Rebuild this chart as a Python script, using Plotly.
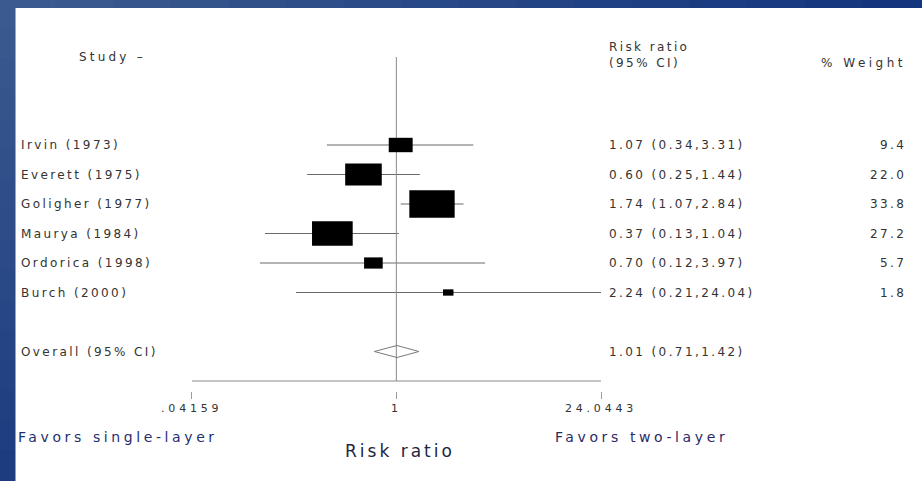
import numpy as np
import plotly.graph_objects as go

# ---------------- data ----------------
studies = ["Irvin (1973)", "Everett (1975)", "Goligher (1977)", "Maurya (1984)",
           "Ordorica (1998)", "Burch (2000)"]
rr = [1.07, 0.60, 1.74, 0.37, 0.70, 2.24]
ci_low = [0.34, 0.25, 1.07, 0.13, 0.12, 0.21]
ci_high = [3.31, 1.44, 2.84, 1.04, 3.97, 24.04]
weights = [9.4, 22.0, 33.8, 27.2, 5.7, 1.8]
overall_label = "Overall (95% CI)"
overall_rr = 1.01
overall_low = 0.71
overall_high = 1.42
tick_vals = [0.04159, 1, 24.0443]
tick_text = [".04159", "1", "24.0443"]

# ---------------- geometry helpers ----------------
W, H = 922, 481
ROW1_PX, ROW_PX = 145.0, 29.5           # pixel of row 1, pixels per row
rows = list(range(1, len(studies) + 1))
overall_row = len(studies) + 2
axis_row = 1 + (381 - ROW1_PX) / ROW_PX
top_row = 1 + (57 - ROW1_PX) / ROW_PX
X_LO_PX, X_HI_PX = 191.7, 601.0
PX_PER_DEC = (X_HI_PX - X_LO_PX) / np.log10(tick_vals[-1] / tick_vals[0])


def px_x(p):
    return p / W


def px_y(p):
    return 1 - p / H


def ls(s, sp):
    return f'<span style="letter-spacing:{sp}px">{s}</span>'


FONT = "DejaVu Sans, Liberation Sans, Arial, sans-serif"
TXT = "#333333"

fig = go.Figure()

# CI lines
xs, ys = [], []
for lo, hi, r in zip(ci_low, ci_high, rows):
    xs += [lo, hi, None]
    ys += [r, r, None]
fig.add_trace(go.Scatter(x=xs, y=ys, mode="lines",
                         line=dict(color="#6a6a6a", width=1),
                         hoverinfo="skip", showlegend=False))

# reference line at 1 (no effect)
fig.add_trace(go.Scatter(x=[1, 1], y=[top_row, axis_row], mode="lines",
                         line=dict(color="#8a8a8a", width=1),
                         hoverinfo="skip", showlegend=False))

# horizontal axis line
fig.add_trace(go.Scatter(x=[tick_vals[0], tick_vals[-1]], y=[axis_row, axis_row],
                         mode="lines", line=dict(color="#8a8a8a", width=1),
                         hoverinfo="skip", showlegend=False))

# overall diamond (outline only)
d = 6.0 / ROW_PX
fig.add_trace(go.Scatter(
    x=[overall_low, overall_rr, overall_high, overall_rr, overall_low],
    y=[overall_row, overall_row - d, overall_row, overall_row + d, overall_row],
    mode="lines", line=dict(color="#7a7a7a", width=1),
    hoverinfo="skip", showlegend=False))

shapes = []
# background: white panel on blue frame (gradient strips)
c0 = np.array([0x3d, 0x5c, 0x90])
c1 = np.array([0x12, 0x34, 0x7d])
c2 = np.array([0x1c, 0x3b, 0x80])
n = 16
for i in range(n):
    t = (i + 0.5) / n
    c = (c0 * (1 - t) + c1 * t).astype(int)
    shapes.append(dict(type="rect", xref="paper", yref="paper",
                       x0=i / n - 0.002, x1=(i + 1) / n + 0.002, y0=px_y(8), y1=1.01,
                       fillcolor="rgb(%d,%d,%d)" % tuple(c), line=dict(width=0), layer="below"))
    c = (c0 * (1 - t) + c2 * t).astype(int)
    shapes.append(dict(type="rect", xref="paper", yref="paper",
                       x0=-0.01, x1=px_x(15.5),
                       y0=1 - (i + 1) / n - 0.002, y1=1 - i / n + 0.002,
                       fillcolor="rgb(%d,%d,%d)" % tuple(c), line=dict(width=0), layer="below"))
shapes.append(dict(type="rect", xref="paper", yref="paper",
                   x0=px_x(15.5), x1=1.01, y0=-0.01, y1=px_y(8),
                   fillcolor="white", line=dict(width=0), layer="below"))

# weight boxes (area proportional to weight), edges computed in data units
for r, est, w in zip(rows, rr, weights):
    bw = 7.8 * np.sqrt(w)
    bh = 4.7 * np.sqrt(w)
    half_dec = bw / 2 / PX_PER_DEC
    shapes.append(dict(type="rect", xref="x", yref="y",
                       x0=est * 10 ** (-half_dec), x1=est * 10 ** half_dec,
                       ysizemode="pixel", yanchor=r, y0=-bh / 2, y1=bh / 2,
                       fillcolor="black", line=dict(width=0)))

annotations = []


def add_text(text, x, y, yref="paper", xanchor="left", size=12, color=TXT, sp=2.4):
    annotations.append(dict(text=ls(text, sp), x=x, y=y, xref="paper", yref=yref,
                            xanchor=xanchor, yanchor="middle", showarrow=False,
                            font=dict(family=FONT, size=size, color=color)))


# headers
add_text("Study \u2013", px_x(77), px_y(57), sp=3.2)
add_text("Risk ratio", px_x(607), px_y(47))
add_text("(95% CI)", px_x(607), px_y(63))
add_text("% Weight", px_x(908), px_y(63), xanchor="right", sp=3.5)

# study rows
for name, r, est, lo, hi, w in zip(studies, rows, rr, ci_low, ci_high, weights):
    add_text(name, px_x(19), r, yref="y")
    add_text(f"{est:.2f} ({lo:.2f},{hi:.2f})", px_x(607), r, yref="y")
    add_text(f"{w:.1f}", px_x(908), r, yref="y", xanchor="right")

add_text(overall_label, px_x(19), overall_row, yref="y")
add_text(f"{overall_rr:.2f} ({overall_low:.2f},{overall_high:.2f})", px_x(607),
         overall_row, yref="y")

# bottom labels
add_text("Favors single-layer", px_x(16), px_y(437), size=14, color="#1f2f6f", sp=3.6)
add_text("Favors two-layer", px_x(553), px_y(437), size=14, color="#2a2a66", sp=3.6)
add_text("Risk ratio", px_x(400), px_y(451), xanchor="center", size=17,
         color="#22263e", sp=3)

fig.update_layout(
    width=W, height=H,
    autosize=False,
    margin=dict(l=0, r=0, t=0, b=0, pad=0, autoexpand=False),
    paper_bgcolor="#2a4788",
    plot_bgcolor="rgba(0,0,0,0)",
    showlegend=False,
    shapes=shapes,
    annotations=annotations,
    xaxis=dict(type="log",
               range=[np.log10(tick_vals[0]), np.log10(tick_vals[-1])],
               domain=[px_x(X_LO_PX), px_x(X_HI_PX)],
               anchor="free", position=px_y(391), automargin=False,
               showline=False, showgrid=False, zeroline=False,
               ticks="outside", ticklen=7, tickwidth=1, tickcolor="#9a9a9a",
               tickvals=tick_vals, ticktext=[ls(t, 3.8) for t in tick_text],
               tickfont=dict(family=FONT, size=11, color=TXT)),
    yaxis=dict(visible=False, domain=[0, 1], automargin=False,
               range=[1 + (H - ROW1_PX) / ROW_PX, 1 - ROW1_PX / ROW_PX]),
)

fig.write_html("out.html", config={"displayModeBar": False},
               post_script="document.body.style.margin='0px';")
